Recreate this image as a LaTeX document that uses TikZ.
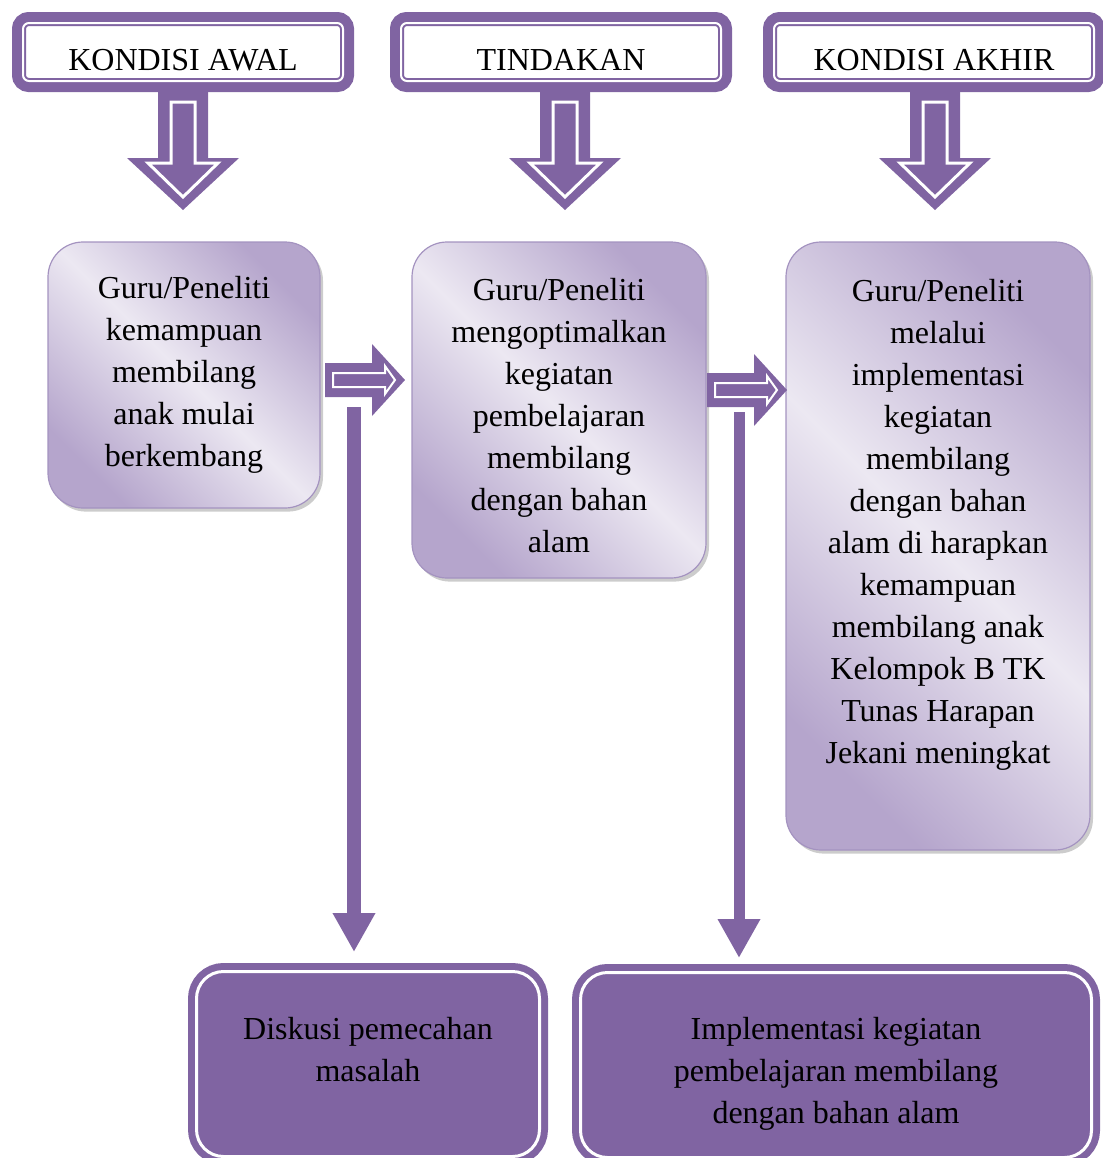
\documentclass[tikz,border=0pt]{standalone}
\usepackage{fontspec}
\setmainfont{Liberation Serif}
\usetikzlibrary{calc,shadows,arrows.meta}

\definecolor{plum}{HTML}{8064A2}
\definecolor{lilacdark}{HTML}{B5A5CC}
\definecolor{lilaclight}{HTML}{ECE8F2}
\definecolor{lilacline}{HTML}{A493C0}

\tikzset{
  stagehead/.style={draw=plum, line width=1pt, double=white, double distance=1pt,
    fill=white, rounded corners=3pt, minimum width=160pt, minimum height=29pt,
    inner sep=0pt, outer sep=0pt, text height=20pt, text depth=2pt,
    preaction={draw=plum, line width=11pt}},
  stagebox/.style={draw=lilacline, line width=0.6pt, rounded corners=17.5pt,
    top color=lilacdark, bottom color=lilacdark, middle color=lilaclight,
    shading angle=-45, align=center, inner sep=0pt, outer sep=0pt,
    drop shadow={shadow xshift=1.5pt, shadow yshift=-1.8pt, opacity=0.4}},
  actionbox/.style={fill=plum, draw=white, line width=1.5pt, rounded corners=13.5pt,
    align=center, inner sep=0pt, outer sep=0pt,
    preaction={draw=plum, line width=8.5pt}},
  dropline/.style={plum, -{Triangle[width=20pt,length=19.5pt]}},
  downblock/.pic={
    \fill[plum] (-25,0) -- (-25,66) -- (-56,66) -- (0,118) -- (56,66) -- (25,66) -- (25,0) -- cycle;
    \draw[white, line width=1.5pt] (-12,10) -- (-12,71) -- (-35,71) -- (0,105) -- (35,71) -- (12,71) -- (12,10) -- cycle;
  },
  rightblock/.pic={
    \fill[plum] (0,-17) -- (47,-17) -- (47,-36) -- (80,0) -- (47,36) -- (47,17) -- (0,17) -- cycle;
    \draw[white, line width=1pt] (8,-7) -- (60,-7) -- (60,-14) -- (70,0) -- (60,14) -- (60,7) -- (8,7) -- cycle;
  },
}

\begin{document}
\begin{tikzpicture}[x=0.5pt, y=-0.5pt, every node/.style={font=\fontsize{16pt}{21pt}\selectfont}]
  \useasboundingbox (0,0) rectangle (1103,1158);
  \clip (0,0) rectangle (1103,1158);

  \node[stagehead] (awal) at (183,52) {KONDISI AWAL};
  \node[stagehead] (tindakan) at (561,52) {TINDAKAN};
  \node[stagehead] (akhir) at (934,52) {KONDISI AKHIR};

  \pic at ($(awal.south)+(0,11)$) {downblock};
  \pic at ($(tindakan.south)+(4,11)$) {downblock};
  \pic at ($(akhir.south)+(1,11)$) {downblock};

  \node[stagebox, minimum width=136pt, minimum height=133pt] (awalbox) at (184,375)
    {Guru/Peneliti\\kemampuan\\membilang\\anak mulai\\berkembang};
  \node[stagebox, minimum width=147pt, minimum height=168pt, text height=142pt, text depth=0pt] (tindakanbox) at (559,410)
    {Guru/Peneliti\\mengoptimalkan\\kegiatan\\pembelajaran\\membilang\\dengan bahan\\alam};
  \node[stagebox, minimum width=152pt, minimum height=304pt, text depth=25pt] (akhirbox) at (938,546)
    {Guru/Peneliti\\melalui\\implementasi\\kegiatan\\membilang\\dengan bahan\\alam di harapkan\\kemampuan\\membilang anak\\Kelompok B TK\\Tunas Harapan\\Jekani meningkat};

  \pic at ($(awalbox.east)+(5,5)$) {rightblock};
  \pic at ($(tindakanbox.east)+(1,-20)$) {rightblock};

  \node[actionbox, minimum width=171.5pt, minimum height=92.5pt, text depth=15pt] (diskusi) at (368,1064)
    {Diskusi pemecahan\\masalah};
  \node[actionbox, minimum width=255.5pt, minimum height=92.5pt, text height=58pt, text depth=0pt] (implementasi) at (836,1065)
    {Implementasi kegiatan\\pembelajaran membilang\\dengan bahan alam};

  \coordinate (drop1) at ($(awalbox.east)+(34,32)$);
  \coordinate (drop2) at ($(tindakanbox.east)+(33,2)$);
  \draw[dropline, line width=7pt, shorten >=9.75pt] (drop1) -- (drop1 |- diskusi.north);
  \draw[dropline, line width=5.5pt, shorten >=7.25pt] (drop2) -- (drop2 |- implementasi.north);
\end{tikzpicture}
\end{document}
